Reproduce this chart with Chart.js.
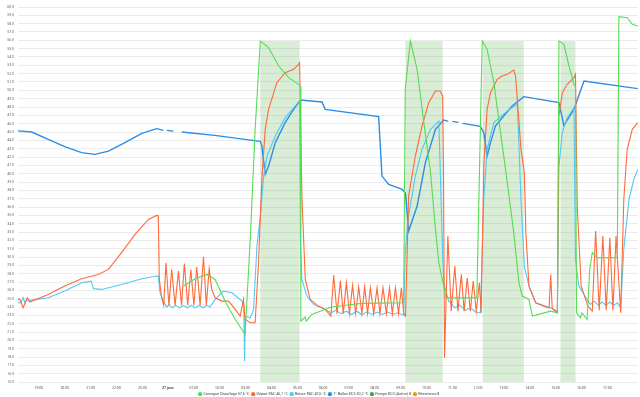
<!DOCTYPE html>
<html>
<head>
<meta charset="utf-8">
<script src="https://cdn.jsdelivr.net/npm/chart.js@4"></script>
<style>
  html, body { margin: 0; padding: 0; background: #fff; }
  #wrap { width: 640px; height: 397px; }
</style>
</head>
<body>
<div id="wrap"><canvas id="chart"></canvas></div>
<script>
// heures depuis minuit du 26 (24 = 27 janv. 00:00)
const hourTicks = [19, 20, 21, 22, 23, 24, 25, 26, 27, 28, 29, 30, 31, 32, 33, 34, 35, 36, 37, 38, 39, 40, 41];
const hourLabels = ['19:00', '20:00', '21:00', '22:00', '23:00', '27 janv.', '01:00', '02:00', '03:00', '04:00', '05:00',
  '06:00', '07:00', '08:00', '09:00', '10:00', '11:00', '12:00', '13:00', '14:00', '15:00', '16:00', '17:00'];

const seriesNames = ['Consigne Chauffage 57,6 °C', 'Départ PAC 46,1 °C', 'Retour PAC 40,5 °C',
  'T° Ballon ECS 50,2 °C', 'Pompe ECS (Active) 8', 'Résistance 8'];

// Consigne Chauffage
const consigneTimes = [24.59, 25.05, 25.5, 25.82, 26.21, 26.6, 26.98, 27.18, 27.37, 27.57, 27.89, 28.28, 28.67, 29.05, 29.12,
  29.14, 29.3, 29.35, 29.56, 30.33, 31.11, 31.5, 33.12, 33.18, 33.38, 33.64, 33.9, 34.16, 34.35, 34.48, 34.67, 34.75,
  35.95, 36.16, 36.35, 36.61, 36.87, 37.13, 37.38, 37.58, 37.71, 37.97, 38.1, 38.81, 39.07, 39.13, 39.32, 39.52, 39.71,
  39.77, 39.81, 39.96, 40.02, 40.22, 40.32, 40.42, 40.61, 41.39, 41.45, 41.77, 41.97, 42.18];
const consigneValues = [26.5, 27.39, 27.91, 27.31, 24.7, 22.5, 20.73, 32.1, 45.32, 55.92, 55.13, 52.92, 51.52, 50.72, 50.5,
  22.3, 22.8, 22.3, 23.1, 24.0, 24.3, 24.43, 24.51, 50.12, 55.92, 52.52, 46.12, 40.12, 33.31, 29.32, 26.51, 25.1,
  25.1, 55.92, 54.92, 50.92, 44.92, 38.92, 32.92, 26.92, 25.31, 24.91, 22.91, 23.5, 23.31, 55.92, 55.52, 52.92, 50.72,
  50.5, 23.31, 22.7, 23.3, 22.5, 28.5, 30.52, 29.92, 29.92, 58.85, 58.72, 57.92, 57.72];

// Départ PAC
const departTimes = [18.19, 18.26, 18.39, 18.55, 18.65, 19.36, 20.0, 20.65, 21.3, 21.69, 22.2, 22.72, 23.24, 23.56, 23.62,
  23.66, 23.75, 23.83, 23.92, 24.03, 24.14, 24.27, 24.4, 24.52, 24.63, 24.76, 24.88, 25.0, 25.11, 25.24, 25.37, 25.48,
  25.59, 25.69, 25.82, 26.08, 26.34, 26.6, 26.79, 26.92, 26.98, 27.18, 27.37, 27.5, 27.63, 27.76, 27.89, 28.21, 28.53,
  28.86, 29.05, 29.09, 29.18, 29.31, 29.5, 29.82, 30.08, 30.3, 30.41, 30.54, 30.67, 30.78, 30.9, 31.02, 31.14, 31.26,
  31.38, 31.5, 31.61, 31.72, 31.83, 31.96, 32.09, 32.2, 32.32, 32.45, 32.57, 32.68, 32.8, 32.92, 33.03, 33.12, 33.19,
  33.31, 33.57, 33.83, 34.09, 34.35, 34.53, 34.63, 34.66, 34.7, 34.83, 34.96, 35.1, 35.22, 35.35, 35.46, 35.58, 35.7,
  35.81, 35.93, 36.05, 36.12, 36.22, 36.35, 36.48, 36.74, 36.93, 37.13, 37.38, 37.45, 37.66, 37.79, 37.85, 37.97, 38.23,
  38.68, 38.75, 38.81, 38.87, 39.07, 39.13, 39.26, 39.45, 39.71, 39.77, 39.84, 39.99, 40.25, 40.42, 40.55, 40.69, 40.83,
  40.96, 41.1, 41.22, 41.34, 41.52, 41.64, 41.77, 41.97, 42.18];
const departValues = [24.91, 24.91, 23.91, 25.11, 24.59, 25.51, 26.51, 27.39, 27.91, 28.51, 30.52, 32.71, 34.51, 34.99, 34.95,
  27.31, 25.11, 24.2, 29.3, 24.2, 28.5, 24.2, 28.3, 24.2, 29.2, 24.2, 28.5, 24.2, 28.8, 24.2, 30.04, 24.2,
  28.6, 26.11, 25.11, 24.71, 24.71, 23.71, 22.9, 24.91, 22.51, 22.11, 22.11, 29.32, 39.32, 45.32, 47.72, 50.92, 52.12,
  52.52, 53.12, 53.32, 37.31, 27.31, 24.91, 24.11, 23.71, 22.9, 27.8, 23.2, 27.15, 23.2, 26.9, 23.2, 26.6, 23.2,
  26.4, 23.2, 26.4, 23.2, 26.3, 23.2, 26.3, 23.2, 26.3, 23.2, 26.3, 23.2, 26.3, 23.2, 26.3, 23.2, 22.9,
  37.31, 42.11, 45.71, 48.52, 49.92, 49.92, 49.32, 40.0, 17.91, 32.51, 23.5, 28.91, 23.5, 27.91, 23.5, 27.51, 23.5,
  27.11, 23.5, 26.91, 23.31, 40.91, 47.72, 49.72, 51.32, 51.72, 51.92, 52.44, 51.7, 42.92, 40.12, 32.92, 26.51, 24.51,
  23.91, 23.9, 27.91, 23.8, 23.31, 46.92, 49.72, 50.72, 51.52, 51.92, 36.0, 26.51, 24.11, 23.5, 33.11, 23.6, 32.51,
  23.6, 32.31, 23.6, 32.51, 23.31, 36.91, 42.92, 45.32, 46.12];

// Retour PAC
const retourTimes = [18.19, 18.3, 18.39, 18.46, 18.53, 18.65, 19.36, 20.0, 20.65, 21.02, 21.11, 21.43, 22.2, 22.98, 23.56,
  23.62, 23.69, 23.82, 23.95, 24.05, 24.15, 24.3, 24.45, 24.6, 24.75, 24.9, 25.05, 25.2, 25.35, 25.5, 25.62, 25.82,
  26.14, 26.47, 26.86, 26.93, 26.96, 26.99, 27.18, 27.31, 27.44, 27.57, 27.7, 27.83, 28.15, 28.53, 28.92, 29.09, 29.12,
  29.18, 29.37, 29.63, 30.08, 30.3, 30.5, 30.7, 30.9, 31.1, 31.3, 31.5, 31.7, 31.9, 32.1, 32.3, 32.5, 32.7, 32.9, 33.12,
  33.18, 33.31, 33.57, 33.83, 34.16, 34.48, 34.63, 34.67, 34.86, 34.93, 35.1, 35.3, 35.5, 35.7, 35.9, 36.09, 36.22,
  36.35, 36.61, 37.13, 37.52, 37.66, 37.79, 37.97, 38.23, 38.81, 39.07, 39.13, 39.26, 39.45, 39.71, 39.77, 39.9, 40.22,
  40.35, 40.5, 40.65, 40.8, 40.95, 41.1, 41.25, 41.4, 41.52, 41.64, 41.84, 42.03, 42.18];
const retourValues = [24.51, 24.51, 25.11, 24.5, 24.9, 24.79, 25.11, 25.91, 26.91, 27.11, 26.2, 26.11, 26.71, 27.39, 27.71,
  27.71, 25.71, 24.71, 24.0, 24.3, 23.9, 24.2, 23.9, 24.2, 23.9, 24.2, 23.9, 24.2, 23.9, 24.2, 24.0, 24.91,
  25.9, 25.71, 24.71, 23.9, 17.5, 22.9, 22.71, 23.71, 31.31, 34.91, 39.71, 42.11, 44.51, 46.72, 48.12, 48.72, 32.0,
  27.31, 25.31, 24.31, 23.71, 23.3, 23.6, 23.2, 23.5, 23.1, 23.5, 23.1, 23.4, 23.1, 23.4, 23.1, 23.4, 23.1, 23.3, 22.99,
  30.71, 34.91, 39.71, 42.92, 45.32, 46.32, 30.11, 26.92, 24.71, 24.51, 23.9, 24.2, 23.6, 23.9, 23.4, 23.31, 36.91,
  42.92, 46.12, 47.52, 48.32, 36.91, 28.91, 26.51, 24.51, 23.91, 23.5, 40.91, 44.92, 46.72, 47.92, 29.71, 26.51, 24.91,
  24.3, 24.7, 24.2, 24.6, 24.2, 24.6, 24.2, 24.5, 23.91, 30.91, 36.91, 39.32, 40.5];

// T° Ballon ECS (null = trou dans l'historique)
const ballonTimes = [18.19, 18.72, 19.36, 20.0, 20.65, 21.17, 21.69, 22.33, 22.98, 23.56, 23.82, 23.88, 23.95, 24.2, 24.3,
  24.53, 25.8, 26.98, 27.57, 27.63, 27.76, 27.89, 28.15, 28.53, 28.86, 29.12, 29.96, 30.08, 32.15, 32.28, 32.54, 33.06,
  33.19, 33.31, 33.64, 33.96, 34.35, 34.67, 34.85, 34.9, 35.0, 35.24, 35.3, 35.4, 36.09, 36.22, 36.35, 36.48, 36.67,
  36.99, 37.32, 37.77, 39.13, 39.32, 39.71, 40.1, 42.18];
const ballonValues = [45.14, 45.0, 44.12, 43.24, 42.52, 42.32, 42.71, 43.72, 44.84, 45.4, 45.2, null, 45.2, 45.1, null,
  45.0, 44.6, 44.12, 43.88, 43.31, 39.92, 40.91, 43.72, 46.12, 47.72, 48.84, 48.6, 47.72, 46.84, 39.71, 38.72, 38.12,
  37.64, 33.11, 36.11, 41.32, 45.32, 46.44, 46.28, null, 46.28, 46.16, null, 46.04, 45.68, 44.92, 42.11, 43.72, 45.72,
  46.92, 48.12, 49.24, 48.52, 45.8, 47.72, 51.12, 50.2];

// Pompe ECS (0 / 1)
const pompeTimes = [18.19, 27.57, 27.57, 29.09, 29.09, 33.19, 33.19, 34.63, 34.63, 36.18, 36.18, 37.77, 37.77, 39.19, 39.19,
  39.77, 39.77, 42.19];
const pompeValues = [0, 0, 1, 1, 0, 0, 1, 1, 0, 0, 1, 1, 0, 0, 1, 1, 0, 0];

const colors = ['#55dd55', '#ff6a3a', '#52c8f5', '#2a8de6', '#43a047', '#ff9800'];

const pts = (xs, ys) => xs.map((x, i) => ({ x: x, y: ys[i] }));

function lineSet(i, xs, ys, width) {
  return {
    label: seriesNames[i],
    data: pts(xs, ys),
    borderColor: colors[i],
    backgroundColor: colors[i],
    borderWidth: width,
    pointRadius: 0,
    tension: 0,
    spanGaps: false,
    yAxisID: 'y'
  };
}

const datasets = [
  lineSet(0, consigneTimes, consigneValues, 1.1),
  lineSet(1, departTimes, departValues, 1.1),
  lineSet(2, retourTimes, retourValues, 1.1),
  lineSet(3, ballonTimes, ballonValues, 1.4),
  {
    label: seriesNames[4],
    data: pts(pompeTimes, pompeValues),
    borderWidth: 0,
    borderColor: 'rgba(0,0,0,0)',
    backgroundColor: 'rgba(100,180,90,0.25)',
    fill: 'origin',
    pointRadius: 0,
    tension: 0,
    yAxisID: 'y2',
    order: 10
  },
  {
    label: seriesNames[5],
    data: [],
    borderColor: colors[5],
    backgroundColor: colors[5],
    pointRadius: 0,
    yAxisID: 'y2'
  }
];

const tinyFont = { family: 'Roboto', size: 3.5 };

new Chart(document.getElementById('chart'), {
  type: 'line',
  data: { datasets },
  options: {
    responsive: true,
    maintainAspectRatio: false,
    animation: false,
    layout: { padding: { top: 7, right: 2, left: 0, bottom: 0 } },
    plugins: {
      tooltip: { enabled: false },
      legend: {
        position: 'bottom',
        maxHeight: 7,
        labels: {
          usePointStyle: true,
          pointStyle: 'circle',
          boxWidth: 3,
          boxHeight: 3,
          padding: 2.3,
          color: '#444',
          font: { family: 'Roboto', size: 3.7 },
          sort: (a, b) => a.datasetIndex - b.datasetIndex,
          generateLabels: chart => Chart.defaults.plugins.legend.labels.generateLabels(chart).map(l => {
            l.fillStyle = colors[l.datasetIndex];
            l.strokeStyle = colors[l.datasetIndex];
            l.lineWidth = 0;
            return l;
          })
        }
      }
    },
    scales: {
      x: {
        type: 'linear',
        min: 18.19,
        max: 42.19,
        afterBuildTicks: scale => { scale.ticks = hourTicks.map(v => ({ value: v })); },
        afterFit: scale => { scale.height = 8; },
        grid: { display: false, drawTicks: false },
        border: { display: false },
        ticks: {
          autoSkip: false,
          maxRotation: 0,
          padding: 4,
          color: '#555',
          font: ctx => ctx.tick && ctx.tick.value === 24 ? { family: 'Roboto', size: 3.5, weight: 'bold' } : tinyFont,
          callback: v => hourLabels[hourTicks.indexOf(v)]
        }
      },
      y: {
        min: 15,
        max: 60,
        afterFit: scale => { scale.width = 18; },
        border: { display: false },
        grid: { color: 'rgba(0,0,0,0.08)', borderDash: [2, 2], drawTicks: false },
        ticks: {
          stepSize: 1,
          autoSkip: false,
          padding: 4,
          color: '#666',
          font: tinyFont,
          callback: v => v.toFixed(1)
        }
      },
      y2: {
        display: false,
        min: 0,
        max: 1.1
      }
    }
  }
});
</script>
</body>
</html>
